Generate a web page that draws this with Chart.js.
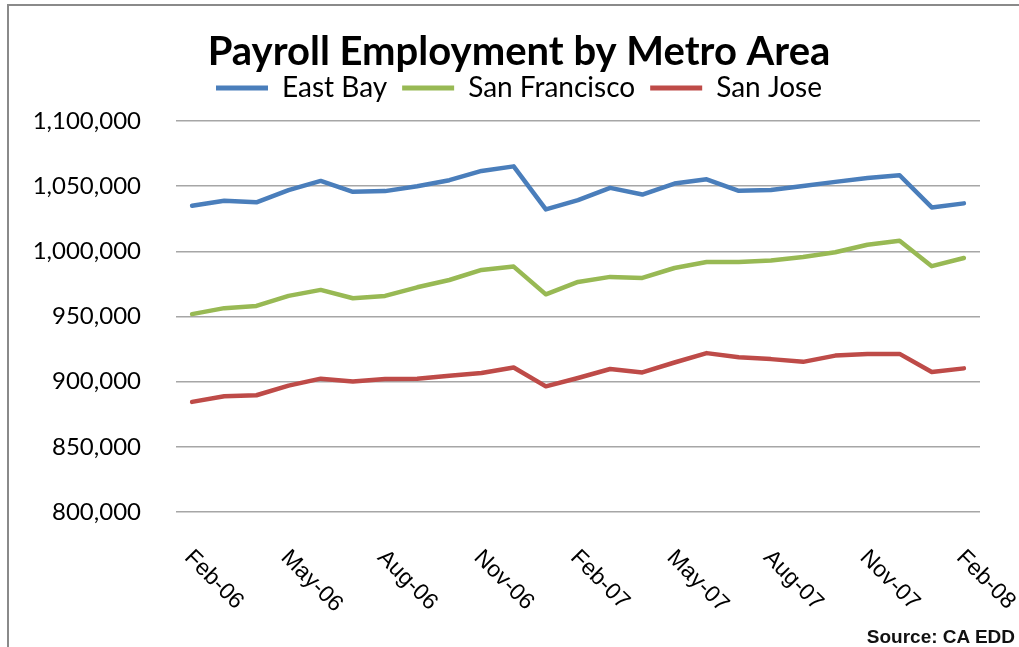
<!DOCTYPE html>
<html>
<head>
<meta charset="utf-8">
<script src="https://cdn.jsdelivr.net/npm/chart.js@4"></script>
<style>
  html, body { margin: 0; padding: 0; background: #fff; }
  #wrap { position: relative; width: 1019px; height: 647px; overflow: hidden; }
  #frame { position: absolute; left: 7px; top: 4px; width: 1100px; height: 700px;
           border-top: 2px solid #8a8a8a; border-left: 2px solid #8a8a8a; }
  #source { position: absolute; right: 4px; top: 626px; line-height: 19px;
            font: bold 19px "Liberation Sans", Arial, sans-serif; color: #111; }
  canvas { position: absolute; left: 0; top: 0; }
</style>
</head>
<body>
<div id="wrap">
  <div id="frame"></div>
  <canvas id="chart" width="1019" height="647"></canvas>
  <div id="source">Source: CA EDD</div>
</div>
<script>
const months = [
  "Feb-06", "Mar-06", "Apr-06", "May-06", "Jun-06", "Jul-06", "Aug-06", "Sep-06", "Oct-06",
  "Nov-06", "Dec-06", "Jan-07", "Feb-07", "Mar-07", "Apr-07", "May-07", "Jun-07", "Jul-07",
  "Aug-07", "Sep-07", "Oct-07", "Nov-07", "Dec-07", "Jan-08", "Feb-08",
];
const tickLabels = ["Feb-06", "May-06", "Aug-06", "Nov-06", "Feb-07", "May-07", "Aug-07", "Nov-07", "Feb-08"];

const eastBay = [
  1035000, 1038800, 1037600, 1047000, 1054000, 1045700, 1046200, 1050000, 1054600, 1061700,
  1065200, 1032200, 1039300, 1048700, 1043600, 1052000, 1055300, 1046400, 1047000, 1050200,
  1053300, 1056300, 1058400, 1033700, 1036800,
];
const sanFrancisco = [
  951800, 956400, 958100, 965800, 970400, 964000, 965800, 972400, 978000, 985700,
  988300, 967000, 976500, 980400, 979600, 987200, 991800, 991800, 992900, 995700,
  999300, 1005100, 1008100, 988600, 994900,
];
const sanJose = [
  884500, 888800, 889600, 897000, 902300, 900200, 902000, 902300, 904600, 906600,
  910900, 896400, 902800, 909700, 907100, 914700, 921900, 918800, 917300, 915200,
  920000, 921300, 921300, 907400, 910200,
];

// x labels in the reference run downward to the right, which the built-in
// rotation cannot do, so they are drawn here at the scale's own positions
const slantedLabels = {
  id: "slantedLabels",
  afterDraw(chart) {
    const xScale = chart.scales.x;
    const context = chart.ctx;

    context.save();
    context.font = "23px 'Liberation Sans', Arial, sans-serif";
    context.fillStyle = "#000";
    context.textAlign = "left";
    context.textBaseline = "middle";

    tickLabels.forEach((label) => {
      const x = xScale.getPixelForValue(months.indexOf(label));
      context.save();
      context.translate(x - 4, chart.chartArea.bottom + 42);
      context.rotate(Math.PI / 4);
      context.fillText(label, 0, 0);
      context.restore();
    });

    context.restore();
  },
};

new Chart(document.getElementById("chart"), {
  type: "line",
  data: {
    labels: months,
    datasets: [
      { label: "East Bay", data: eastBay, borderColor: "#4a7ebb", backgroundColor: "#4a7ebb" },
      { label: "San Francisco", data: sanFrancisco, borderColor: "#98b954", backgroundColor: "#98b954" },
      { label: "San Jose", data: sanJose, borderColor: "#be4b48", backgroundColor: "#be4b48" },
    ],
  },
  plugins: [slantedLabels],
  options: {
    responsive: false,
    animation: false,
    layout: { padding: { top: 0, left: 19, right: 0, bottom: 135 } },
    elements: {
      line: { borderWidth: 4.5, tension: 0, borderCapStyle: "round", borderJoinStyle: "round" },
      // radius 0 hides the points; the width feeds the legend's line swatch
      point: { radius: 0, borderWidth: 5 },
    },
    plugins: {
      title: {
        display: true,
        text: "Payroll Employment by Metro Area",
        color: "#000",
        font: { family: "Lato", size: 40, weight: "bold", lineHeight: 0.3 },
        padding: { top: 46, bottom: 1 },
      },
      // empty spacer between legend and plot
      subtitle: {
        display: true,
        text: "",
        weight: 500,
        font: { size: 9, lineHeight: 1 },
        padding: 0,
      },
      legend: {
        labels: {
          usePointStyle: true,
          pointStyle: "line",
          pointStyleWidth: 52,
          boxHeight: 28,
          padding: 15,
          color: "#000",
          font: { family: "Lato", size: 28 },
        },
      },
      tooltip: { enabled: false },
    },
    scales: {
      x: {
        offset: true,
        grid: { display: false, drawTicks: false },
        border: { display: false },
        ticks: { display: false },
      },
      y: {
        min: 800000,
        max: 1100000,
        afterFit(scale) {
          scale.width = 157;
        },
        ticks: {
          stepSize: 50000,
          padding: 35,
          color: "#000",
          font: { family: "Lato", size: 24 },
          callback: (value) => value.toLocaleString("en-US"),
        },
        grid: { color: "#a6a6a6", lineWidth: 1.5, drawTicks: false },
        border: { display: false },
      },
      // empty right-hand strip so the plot stops short of the edge
      rightGap: {
        type: "linear",
        position: "right",
        afterFit(scale) {
          scale.width = 39;
        },
        ticks: { display: false },
        grid: { display: false, drawTicks: false },
        border: { display: false },
      },
    },
  },
});
</script>
</body>
</html>
